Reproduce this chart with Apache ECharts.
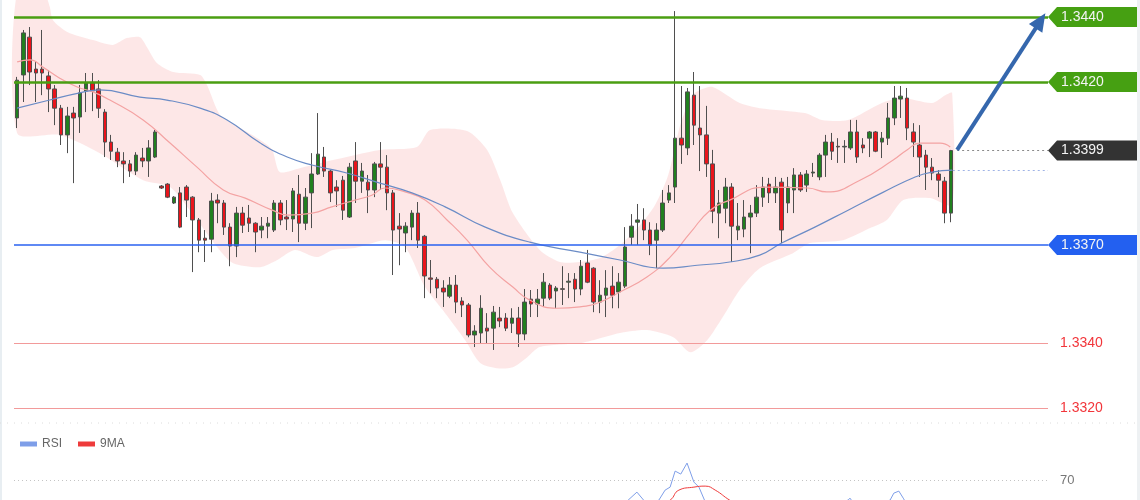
<!DOCTYPE html>
<html>
<head>
    <meta charset="utf-8">
    <title>GBP/USD</title>
    <script src="https://cdn.jsdelivr.net/npm/echarts@6.0.0/dist/echarts.min.js"></script>
    <style>
        html, body { margin: 0; padding: 0; background: #fff; }
        #chart { width: 1140px; height: 500px; }
    </style>
</head>
<body>
<div id="chart"></div>
<script>
    // candles (open / close / low / high)
    var opens = [
        1.34090,1.34222,1.34338,1.34240,1.34240,1.34219,1.34179,1.34120,1.34038,1.34105,
        1.34093,1.34173,1.34197,1.34179,1.34108,1.34016,1.33985,1.33958,1.33949,1.33927,
        1.33967,1.33958,1.33970,1.33881,1.33887,1.33829,1.33860,1.33878,1.33847,1.33777,
        1.33721,1.33718,1.33838,1.33829,1.33755,1.33697,1.33798,1.33783,1.33767,1.33746,
        1.33758,1.33746,1.33829,1.33786,1.33780,1.33856,1.33767,1.33860,1.33918,1.33970,
        1.33927,1.33878,1.33899,1.33786,1.33958,1.33896,1.33893,1.33869,1.33949,1.33939,
        1.33860,1.33758,1.33737,1.33755,1.33798,1.33727,1.33599,1.33595,1.33568,1.33543,
        1.33577,1.33528,1.33516,1.33424,1.33430,1.33445,1.33445,1.33476,1.33476,1.33460,
        1.33476,1.33427,1.33534,1.33519,1.33537,1.33577,1.33559,1.33566,1.33586,1.33595,
        1.33565,1.33645,1.33629,1.33525,1.33546,1.33574,1.33556,1.33574,1.33724,1.33770,
        1.33777,1.33746,1.33715,1.33746,1.33838,1.33878,1.34028,1.33998,1.34160,1.34059,
        1.34038,1.33949,1.33798,1.33813,1.33878,1.33746,1.33749,1.33786,1.33798,1.33847,
        1.33887,1.33860,1.33893,1.33829,1.33869,1.33915,1.33884,1.33921,1.33909,1.33976,
        1.34016,1.34003,1.34001,1.33998,1.34047,1.34007,1.34028,1.34047,1.34016,1.34028,
        1.34090,1.34148,1.34151,1.34047,1.34007,1.33976,1.33939,1.33918,1.33896,1.33798
    ];
    var closes = [
        1.34206,1.34351,1.34231,1.34228,1.34228,1.34179,1.34120,1.34038,1.34096,1.34090,
        1.34167,1.34197,1.34173,1.34120,1.34016,1.33988,1.33958,1.33949,1.33927,1.33976,
        1.33958,1.33998,1.34047,1.33875,1.33847,1.33847,1.33755,1.33838,1.33777,1.33715,
        1.33715,1.33835,1.33829,1.33755,1.33697,1.33798,1.33761,1.33767,1.33740,1.33758,
        1.33767,1.33829,1.33777,1.33780,1.33866,1.33767,1.33847,1.33918,1.33979,1.33927,
        1.33860,1.33866,1.33807,1.33939,1.33896,1.33927,1.33869,1.33949,1.33939,1.33860,
        1.33746,1.33749,1.33758,1.33798,1.33715,1.33605,1.33595,1.33568,1.33556,1.33577,
        1.33525,1.33516,1.33424,1.33436,1.33506,1.33436,1.33494,1.33467,1.33445,1.33476,
        1.33427,1.33525,1.33519,1.33534,1.33586,1.33537,1.33568,1.33564,1.33589,1.33565,
        1.33635,1.33586,1.33525,1.33546,1.33568,1.33546,1.33586,1.33694,1.33758,1.33777,
        1.33746,1.33700,1.33746,1.33829,1.33860,1.34028,1.34007,1.34170,1.34068,1.34038,
        1.33949,1.33804,1.33829,1.33878,1.33758,1.33758,1.33786,1.33798,1.33847,1.33878,
        1.33860,1.33878,1.33746,1.33878,1.33915,1.33869,1.33918,1.33924,1.33976,1.34016,
        1.33988,1.34001,1.34003,1.34047,1.33970,1.33998,1.34047,1.33988,1.34028,1.34090,
        1.34151,1.34157,1.34059,1.34016,1.33970,1.33939,1.33921,1.33899,1.33798,1.33990
    ];
    var lows = [
        1.34059,1.34139,1.34191,1.34139,1.34160,1.34108,1.34068,1.34007,1.33982,1.33890,
        1.34044,1.34108,1.34111,1.34090,1.33970,1.33961,1.33939,1.33890,1.33909,1.33915,
        1.33939,1.33909,1.33967,1.33872,1.33844,1.33826,1.33752,1.33786,1.33617,1.33678,
        1.33648,1.33678,1.33767,1.33731,1.33635,1.33663,1.33737,1.33740,1.33678,1.33721,
        1.33721,1.33740,1.33761,1.33746,1.33740,1.33709,1.33746,1.33752,1.33915,1.33909,
        1.33832,1.33817,1.33777,1.33783,1.33829,1.33860,1.33798,1.33847,1.33869,1.33807,
        1.33608,1.33638,1.33678,1.33715,1.33691,1.33537,1.33552,1.33537,1.33510,1.33537,
        1.33491,1.33479,1.33417,1.33387,1.33399,1.33399,1.33378,1.33448,1.33436,1.33430,
        1.33387,1.33408,1.33479,1.33479,1.33510,1.33531,1.33506,1.33516,1.33537,1.33525,
        1.33546,1.33583,1.33494,1.33491,1.33479,1.33506,1.33506,1.33568,1.33700,1.33700,
        1.33715,1.33669,1.33629,1.33740,1.33829,1.33829,1.33949,1.33976,1.34007,1.33927,
        1.33909,1.33767,1.33721,1.33767,1.33648,1.33715,1.33724,1.33675,1.33786,1.33817,
        1.33829,1.33829,1.33706,1.33798,1.33798,1.33863,1.33863,1.33909,1.33899,1.33909,
        1.33961,1.33952,1.33952,1.33992,1.33952,1.33982,1.33970,1.33985,1.33967,1.34007,
        1.34068,1.34090,1.34022,1.33970,1.33909,1.33869,1.33899,1.33847,1.33767,1.33770
    ];
    var highs = [
        1.34216,1.34360,1.34369,1.34262,1.34360,1.34237,1.34191,1.34130,1.34124,1.34124,
        1.34191,1.34228,1.34228,1.34206,1.34117,1.34038,1.33998,1.33985,1.33961,1.33985,
        1.33998,1.34022,1.34053,1.33884,1.33890,1.33850,1.33878,1.33884,1.33850,1.33783,
        1.33746,1.33860,1.33856,1.33838,1.33767,1.33817,1.33817,1.33823,1.33770,1.33786,
        1.33786,1.33838,1.33838,1.33838,1.33875,1.33915,1.33875,1.33982,1.34105,1.34001,
        1.33930,1.33899,1.33912,1.33952,1.34016,1.33952,1.33915,1.33955,1.34016,1.33976,
        1.33869,1.33798,1.33770,1.33807,1.33832,1.33731,1.33654,1.33602,1.33592,1.33602,
        1.33608,1.33540,1.33522,1.33454,1.33546,1.33491,1.33513,1.33510,1.33491,1.33506,
        1.33510,1.33565,1.33562,1.33565,1.33614,1.33583,1.33574,1.33635,1.33614,1.33614,
        1.33654,1.33685,1.33632,1.33592,1.33623,1.33635,1.33614,1.33755,1.33795,1.33826,
        1.33813,1.33770,1.33767,1.33869,1.33884,1.34418,1.34188,1.34182,1.34231,1.34188,
        1.34127,1.33992,1.33869,1.33906,1.33890,1.33829,1.33838,1.33823,1.33884,1.33909,
        1.33906,1.33909,1.33906,1.33909,1.33936,1.33924,1.33930,1.33952,1.33982,1.34038,
        1.34044,1.34028,1.34022,1.34084,1.34084,1.34028,1.34050,1.34050,1.34047,1.34136,
        1.34188,1.34188,1.34182,1.34074,1.34068,1.33992,1.33967,1.33930,1.33909,1.33992
    ];
    var slotCount = 165; // candles + empty room on the right for the tags

    // overlays: [bar position, price]
    var bbUpper = [[0.5,1.34477],[4.9,1.34467],[5.7,1.34431],[6.2,1.34391],[8.5,1.34354],[12.6,1.34329],
        [15.8,1.34314],[18.0,1.34335],[20.1,1.34338],[21.2,1.34308],[22.8,1.34259],[25.4,1.34231],
        [29.7,1.34222],[30.8,1.34191],[32.9,1.34099],[36.1,1.34059],[39.3,1.34022],[41.2,1.33992],
        [42.4,1.33924],[45.6,1.33936],[50.9,1.33961],[58.4,1.33992],[64.3,1.34001],[66.4,1.34053],
        [72.3,1.34050],[75.5,1.33992],[77.6,1.33899],[79.6,1.33798],[83.9,1.33685],[87.1,1.33648],
        [90.3,1.33648],[93.5,1.33660],[96.7,1.33700],[99.9,1.33761],[102.3,1.33823],[104.4,1.33915],
        [106.3,1.34068],[108.2,1.34160],[109.5,1.34176],[111.5,1.34185],[115.8,1.34136],[119.0,1.34120],
        [126.2,1.34105],[128.9,1.34084],[133.1,1.34084],[138.5,1.34136],[141.7,1.34151],[146.5,1.34136],
        [148.6,1.34160],[149.7,1.34167]];
    var bbLower = [[0.5,1.34044],[7.3,1.34038],[13.7,1.33982],[20.6,1.33899],[24.9,1.33878],[29.2,1.33777],
        [32.4,1.33694],[34.9,1.33645],[39.3,1.33632],[42.0,1.33654],[44.8,1.33685],[48.3,1.33663],
        [50.9,1.33685],[54.4,1.33691],[59.2,1.33715],[62.4,1.33694],[65.6,1.33571],[68.8,1.33491],
        [72.0,1.33408],[74.4,1.33338],[77.1,1.33322],[79.6,1.33325],[81.9,1.33356],[83.9,1.33387],
        [90.3,1.33399],[92.4,1.33408],[96.7,1.33430],[101.0,1.33439],[105.2,1.33417],[107.9,1.33371],
        [110.6,1.33408],[113.1,1.33479],[115.8,1.33562],[119.0,1.33629],[124.3,1.33675],[127.0,1.33706],
        [132.3,1.33715],[136.6,1.33752],[139.3,1.33777],[141.9,1.33838],[146.2,1.33844],[149.7,1.33823]];
    var ma20 = [[0.5,1.34262],[2.6,1.34268],[4.6,1.34246],[7.3,1.34212],[10.1,1.34185],[12.6,1.34170],
        [15.3,1.34145],[20.6,1.34084],[24.9,1.34013],[29.2,1.33939],[33.4,1.33869],[36.9,1.33844],
        [41.2,1.33807],[43.7,1.33792],[47.6,1.33798],[50.7,1.33817],[54.4,1.33838],[57.1,1.33853],
        [59.2,1.33875],[62.4,1.33863],[65.6,1.33838],[69.1,1.33777],[72.3,1.33715],[75.9,1.33632],
        [79.6,1.33571],[82.3,1.33531],[86.6,1.33506],[90.3,1.33510],[93.5,1.33525],[96.7,1.33556],
        [101.0,1.33602],[104.7,1.33663],[107.9,1.33737],[111.1,1.33807],[114.2,1.33838],[119.8,1.33878],
        [126.7,1.33875],[129.7,1.33863],[135.0,1.33899],[140.3,1.33961],[142.5,1.33992],[144.6,1.34013],
        [147.8,1.34013],[149.4,1.34001]];
    var ma50 = [[0.5,1.34120],[5.7,1.34145],[10.5,1.34167],[13.7,1.34176],[20.1,1.34154],[24.4,1.34145],
        [29.7,1.34120],[34.0,1.34084],[39.3,1.34013],[43.6,1.33970],[47.7,1.33945],[53.1,1.33921],
        [58.4,1.33890],[63.5,1.33860],[68.8,1.33817],[75.2,1.33755],[82.3,1.33709],[90.3,1.33678],
        [96.7,1.33654],[103.6,1.33629],[109.0,1.33638],[114.2,1.33648],[119.0,1.33669],[122.5,1.33706],
        [127.8,1.33755],[133.1,1.33807],[138.5,1.33860],[143.8,1.33909],[146.5,1.33924],[149.7,1.33930]];

    var rsi = [[0.5,50],[13.7,45],[29.7,38],[45.6,50],[61.6,42],[72.8,30],[85.5,50],[95.1,48],[98.0,58],
        [99.4,62.8],[100.7,57],[101.8,55],[102.9,58],[103.9,64],[104.7,65.8],[105.5,75.4],[106.4,73.6],
        [107.4,80.2],[108.5,68.8],[109.3,65.8],[110.3,57],[111.9,50],[115.8,45],[122.2,50],[128.6,54],
        [133.1,58],[133.4,59.2],[134.0,56],[136.6,54],[139.8,58],[140.4,62.2],[141.2,63.4],[141.9,59.2],
        [142.7,54],[146.2,45],[149.5,55]];
    var rsiMa = [[0.5,48],[29.7,40],[61.6,44],[85.5,42],[99.9,52],[103.1,56],[104.7,58],[106.1,64],
        [108.5,65.8],[110.3,66.4],[111.9,64],[114.2,58],[116.6,53],[125.4,52],[141.4,56],[149.5,53]];

    var targetLevels = [1.3440, 1.3420];
    var supportLevel = 1.3370;
    var lowerLevels = [1.3340, 1.3320];
    var lastPrice = 1.3399;
    var ma50Last = 1.3393;

    var categories = [];
    for (var i = 0; i < slotCount; i++) categories.push(String(i + 1));
    var candles = opens.map(function (o, i) { return [o, closes[i], lows[i], highs[i]]; });

    var font = "'Liberation Sans', Arial, sans-serif";
    var green = '#4a9e12';

    var marks = [];
    targetLevels.forEach(function (v) {
        marks.push({ yAxis: v, lineStyle: { color: green, width: 2.5, type: 'solid' } });
    });
    marks.push({ yAxis: supportLevel, lineStyle: { color: '#2a62f0', width: 1.5, type: 'solid' } });
    lowerLevels.forEach(function (v) {
        marks.push({
            yAxis: v, lineStyle: { color: '#f29a9a', width: 1.2, type: 'solid' },
            label: { show: true, position: 'end', distance: 12, formatter: v.toFixed(4),
                color: '#f2353a', fontSize: 14, fontFamily: font }
        });
    });
    marks.push([{ coord: [150.5, lastPrice], lineStyle: { color: '#8a8a8a', width: 1, type: [2, 3] } },
        { coord: [slotCount, lastPrice] }]);
    marks.push([{ coord: [149.8, ma50Last], lineStyle: { color: '#9fb3e6', width: 1, type: [2, 3] } },
        { coord: [slotCount, ma50Last] }]);
    // forecast arrow
    marks.push([{ coord: [150.5, 1.33992], symbol: 'none', lineStyle: { color: '#3567ad', width: 4, type: 'solid' } },
        { coord: [163.8, 1.34388], symbol: 'triangle', symbolSize: [16, 18] }]);

    var chart = echarts.init(document.getElementById('chart'));
    var option = {
        animation: false,
        textStyle: { fontFamily: font },
        legend: {
            data: ['RSI', '9MA'], left: 15, top: 433, icon: 'rect', itemWidth: 17, itemHeight: 5, itemGap: 16,
            textStyle: { color: '#666', fontSize: 12 }
        },
        grid: [
            { left: 14, right: 92, top: 0, height: 421, outerBoundsMode: 'none' },
            { left: 14, right: 92, top: 430, height: 167, outerBoundsMode: 'none' }
        ],
        xAxis: [
            { type: 'category', gridIndex: 0, data: categories, show: false },
            { type: 'value', gridIndex: 0, min: 0, max: slotCount, show: false },
            { type: 'value', gridIndex: 1, min: 0, max: slotCount, show: false }
        ],
        yAxis: [
            { type: 'value', gridIndex: 0, min: 1.3316, max: 1.34452, show: false },
            { type: 'value', gridIndex: 1, min: 0, max: 100, show: false }
        ],
        series: [
            {
                name: 'BB', type: 'custom', xAxisIndex: 1, yAxisIndex: 0, z: 1, silent: true,
                data: [[80, 1.338]],
                renderItem: function (params, api) {
                    var pts = bbUpper.map(function (p) { return api.coord(p); })
                        .concat(bbLower.slice().reverse().map(function (p) { return api.coord(p); }));
                    return { type: 'polygon', shape: { points: pts, smooth: 0.25 },
                        style: { fill: 'rgba(248,160,160,0.25)' } };
                }
            },
            {
                name: 'Price', type: 'candlestick', xAxisIndex: 0, yAxisIndex: 0, z: 2,
                barWidth: 4, data: candles,
                itemStyle: { color: '#21801f', color0: '#e9141b', borderColor: '#4f4f4f',
                    borderColor0: '#4f4f4f', borderColorDoji: '#4f4f4f', borderWidth: 1 }
            },
            {
                name: 'MA20', type: 'line', xAxisIndex: 1, yAxisIndex: 0, z: 3, data: ma20, smooth: true,
                showSymbol: false, lineStyle: { color: '#f4a3a3', width: 1.2 }
            },
            {
                name: 'MA50', type: 'line', xAxisIndex: 1, yAxisIndex: 0, z: 4, data: ma50, smooth: true,
                showSymbol: false, lineStyle: { color: '#6b8cc6', width: 1.2 },
                markLine: { silent: true, precision: 5, symbol: ['none', 'none'], label: { show: false }, data: marks }
            },
            {
                name: 'RSI', type: 'line', xAxisIndex: 2, yAxisIndex: 1, data: rsi, color: '#7e9ee8',
                showSymbol: false, lineStyle: { color: '#7e9ee8', width: 1 },
                markLine: {
                    silent: true, symbol: ['none', 'none'],
                    lineStyle: { color: '#c4c4c4', width: 1, type: [1, 3] },
                    label: { show: true, position: 'end', distance: 12, formatter: '70', color: '#777', fontSize: 13 },
                    data: [{ yAxis: 70 }]
                }
            },
            {
                name: '9MA', type: 'line', xAxisIndex: 2, yAxisIndex: 1, data: rsiMa, color: '#ee3b3b', smooth: true,
                showSymbol: false, lineStyle: { color: '#ee3b3b', width: 1 }
            }
        ]
    };
    chart.setOption(option);

    // price tags on the right
    function tag(price, fill) {
        var y = chart.convertToPixel({ yAxisIndex: 0 }, price);
        return {
            type: 'group', children: [
                { type: 'polygon', shape: { points: [[1048, y], [1057, y - 10], [1137, y - 10], [1137, y + 10], [1057, y + 10]] },
                    style: { fill: fill } },
                { type: 'text', x: 1061, y: y, style: { text: price.toFixed(4), fill: '#f4f4f4', font: '14px ' + font,
                    verticalAlign: 'middle' } }
            ]
        };
    }
    chart.setOption({
        graphic: [
            { type: 'rect', shape: { x: 0, y: 0, width: 2, height: 500 }, style: { fill: '#e8eef2' } },
            { type: 'rect', shape: { x: 1137, y: 0, width: 3, height: 500 }, style: { fill: '#eef1f3' } },
            { type: 'line', shape: { x1: 0, y1: 423, x2: 1140, y2: 423 }, style: { stroke: '#dcdcdc', lineDash: [1, 6] } },
            tag(targetLevels[0], '#46a012'),
            tag(targetLevels[1], '#46a012'),
            tag(lastPrice, '#333333'),
            tag(supportLevel, '#2360f0')
        ]
    });
</script>
</body>
</html>
